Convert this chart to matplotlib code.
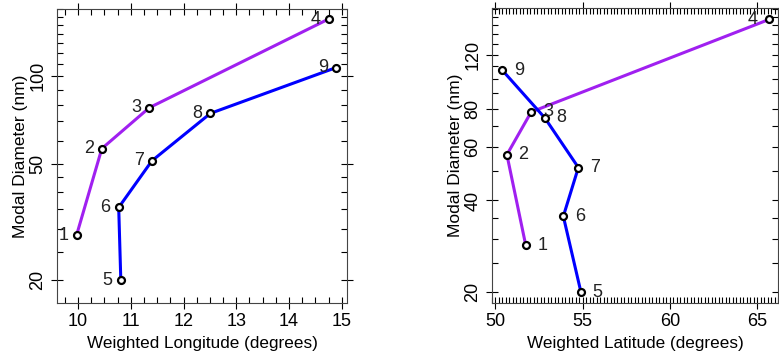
import matplotlib
matplotlib.use('Agg')
import matplotlib.pyplot as plt
from matplotlib.ticker import FixedLocator, MultipleLocator, NullFormatter

plt.rcParams['font.family'] = ['Liberation Sans', 'DejaVu Sans']

# data: points 1-4 (purple) and 5-9 (blue)
labels = ['1', '2', '3', '4', '5', '6', '7', '8', '9']
diameter = [28.5, 56.5, 78.0, 157.0, 20.0, 35.5, 51.3, 74.6, 107.0]
longitude = [9.97, 10.45, 11.35, 14.75, 10.81, 10.77, 11.40, 12.51, 14.89]
latitude = [51.75, 50.67, 52.06, 65.7, 54.91, 53.90, 54.76, 52.84, 50.40]

purple = '#A020F0'
blue = '#0000FF'

fig = plt.figure(figsize=(7.79, 3.54), dpi=100)
ax1 = fig.add_axes([0.0732, 0.144, 0.3722, 0.8306])
ax2 = fig.add_axes([0.6312, 0.144, 0.3678, 0.8326])


def draw(ax, xs, offset):
    ax.plot(xs[:4], diameter[:4], color=purple, lw=2.2, zorder=2)
    ax.plot(xs[4:], diameter[4:], color=blue, lw=2.2, zorder=2)
    ax.plot(xs, diameter, 'o', ms=5, mfc='white', mec='black', mew=1.6, zorder=3)
    for i, lab in enumerate(labels):
        dx = offset[i]
        ax.annotate(lab, (xs[i], diameter[i]), xytext=(dx, 0), textcoords='offset points',
                    ha='center', va='center', fontsize=13, color='#222222')
    ax.set_yscale('log')
    ax.set_ylabel('Modal Diameter (nm)', fontsize=12.5, labelpad=1)
    ax.tick_params(axis='both', which='major', direction='inout', length=8, width=0.8,
                   labelsize=13, top=True, right=True)
    ax.tick_params(axis='both', which='minor', direction='in', length=4, width=0.8,
                   top=True, right=True)
    ax.yaxis.set_minor_formatter(NullFormatter())
    for s in ax.spines.values():
        s.set_linewidth(0.8)
        s.set_color('#444444')


draw(ax1, longitude, [-9.5] * 9)
ax1.set_xlim(9.6, 15.1)
ax1.set_ylim(16.7, 170)
ax1.set_xlabel('Weighted Longitude (degrees)', fontsize=12.3)
ax1.xaxis.set_major_locator(MultipleLocator(1))
ax1.xaxis.set_minor_locator(MultipleLocator(0.25))
ax1.yaxis.set_major_locator(FixedLocator([20, 50, 100]))
ax1.yaxis.set_minor_locator(FixedLocator([25, 30, 35, 40, 45, 60, 70, 80, 90,
                                          110, 120, 130, 140, 150, 160, 170]))
ax1.set_yticklabels(['20', '50', '100'], rotation=90, va='center')

draw(ax2, latitude, [12, 12, 12, -12, 12, 12, 12, 12, 12])
ax2.set_xlim(49.8, 66.2)
ax2.set_ylim(18.45, 170.6)
ax2.set_xlabel('Weighted Latitude (degrees)', fontsize=12.3)
ax2.xaxis.set_major_locator(MultipleLocator(5))
ax2.xaxis.set_minor_locator(MultipleLocator(0.2))
ax2.yaxis.set_major_locator(FixedLocator([20, 40, 60, 80, 120]))
ax2.yaxis.set_minor_locator(FixedLocator([25, 30, 35, 50, 70, 90, 100, 110,
                                          130, 140, 150, 160, 170]))
ax2.set_yticklabels(['20', '40', '60', '80', '120'], rotation=90, va='center')

fig.savefig('out.png', dpi=100)
